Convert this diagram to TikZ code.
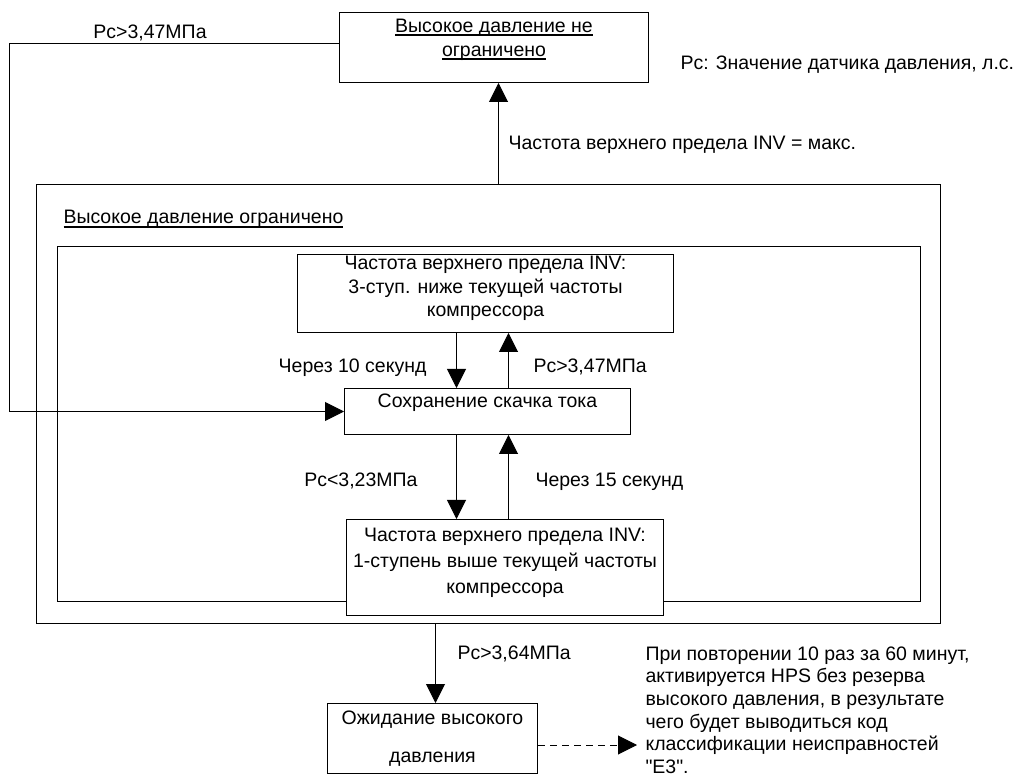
\documentclass[tikz,border=0pt]{standalone}
\usepackage{fontspec}
\setmainfont{Liberation Sans}[Ligatures=TeXOff]
\usetikzlibrary{arrows.meta, positioning, calc}

% thick underline under a label
\newcommand{\ulbar}[1]{\setbox0=\hbox{#1}\leavevmode\rlap{\rule[-4pt]{\wd0}{2pt}}\box0}

\begin{document}
\begin{tikzpicture}[x=1pt, y=-1pt, line width=1pt,
  font=\fontsize{19.5}{23.5}\selectfont,
  box/.style={draw, inner sep=0pt},
  txt/.style={inner sep=0pt, align=center},
  lbl/.style={inner sep=0pt, anchor=base west},
  arr/.style={-{Triangle[length=19pt, width=19pt]}}]
\useasboundingbox (0,0) rectangle (1029,783);

% frames of the limited state
\node[box, minimum width=904pt, minimum height=439pt, anchor=north west] (outer) at (36,184) {};
\node[box, minimum width=863pt, minimum height=355pt, anchor=north west] (inner) at (57,246) {};
\node[lbl] (limtitle) at (63,224) {\ulbar{Высокое давление ограничено}};

% states
\node[box, minimum width=309pt, minimum height=70pt, anchor=north west] (nolimit) at (339,12) {};
\node[txt, anchor=north, font=\fontsize{19.5}{24}\selectfont] (nolimittxt) at ($(nolimit.north)+(0,6.5)$)
  {\ulbar{Высокое давление не}\\\ulbar{ограничено}};
\node[box, minimum width=376pt, minimum height=78pt, anchor=north west] (reduce) at (297,254) {};
\node[txt, anchor=north] (reducetxt) at ($(reduce.north)+(0,2)$)
  {Частота верхнего предела INV:\\3-ступ. ниже текущей частоты\\компрессора};
\node[box, minimum width=286pt, minimum height=46pt, anchor=north west] (hold) at (344,388) {};
\node[txt, anchor=base] (holdtxt) at ($(hold.north)+(0,20)$) {Сохранение скачка тока};
\node[box, fill=white, minimum width=317pt, minimum height=96pt, anchor=north west] (raise) at (346,519) {};
\node[txt, anchor=north, font=\fontsize{19.5}{26}\selectfont] (raisetxt) at ($(raise.north)+(0,9)$)
  {Частота верхнего предела INV:\\1-ступень выше текущей частоты\\компрессора};
\node[box, minimum width=210pt, minimum height=70pt, anchor=north west] (wait) at (327,703) {};
\node[txt, anchor=north, font=\fontsize{19.5}{38}\selectfont] (waittxt) at ($(wait.north)+(0,7)$)
  {Ожидание высокого\\давления};

% notes
\node[lbl] (legend) at (680,70) {Pc: Значение датчика давления, л.с.};
\node[txt, align=left, anchor=north west, font=\fontsize{19.5}{22.7}\selectfont] (note) at (645,646)
  {При повторении 10 раз за 60 минут,\\активируется HPS без резерва\\высокого давления, в результате\\чего будет выводиться код\\классификации неисправностей\\"E3".};
\coordinate (e3) at (637,745);

% transitions
\draw[arr] ($(outer.north)+(10,0)$) -- ($(nolimit.south)+(4.5,0)$);
\node[lbl] (maxlbl) at (508,150) {Частота верхнего предела INV = макс.};
\draw[arr] ([yshift=4pt]nolimit.west) -- ++(-330,0) |- (hold.west);
\node[lbl, anchor=base] (backlbl) at (150,39) {Pc>3,47МПа};

\draw[arr] ($(reduce.south)+(-29,0)$) -- ($(hold.north)+(-31,0)$);
\draw[arr] ($(hold.north)+(21,0)$) -- ($(reduce.south)+(23,0)$);
\node[lbl, anchor=base east] (t10lbl) at (427,373) {Через 10 секунд};
\node[lbl] (uplbl) at (533,373) {Pc>3,47МПа};

\draw[arr] ($(hold.south)+(-31,0)$) -- ($(raise.north)+(-48.5,0)$);
\draw[arr] ($(raise.north)+(3.5,0)$) -- ($(hold.south)+(21,0)$);
\node[lbl, anchor=base east] (downlbl) at (418,487) {Pc<3,23МПа};
\node[lbl] (t15lbl) at (535,487) {Через 15 секунд};

\draw[arr] ($(outer.south)+(-53,0)$) -- ($(wait.north)+(3,0)$);
\node[lbl] (waitlbl) at (457,659) {Pc>3,64МПа};
\draw[arr, dash pattern=on 7pt off 5pt] (wait.east |- e3) -- (e3);
\end{tikzpicture}
\end{document}
